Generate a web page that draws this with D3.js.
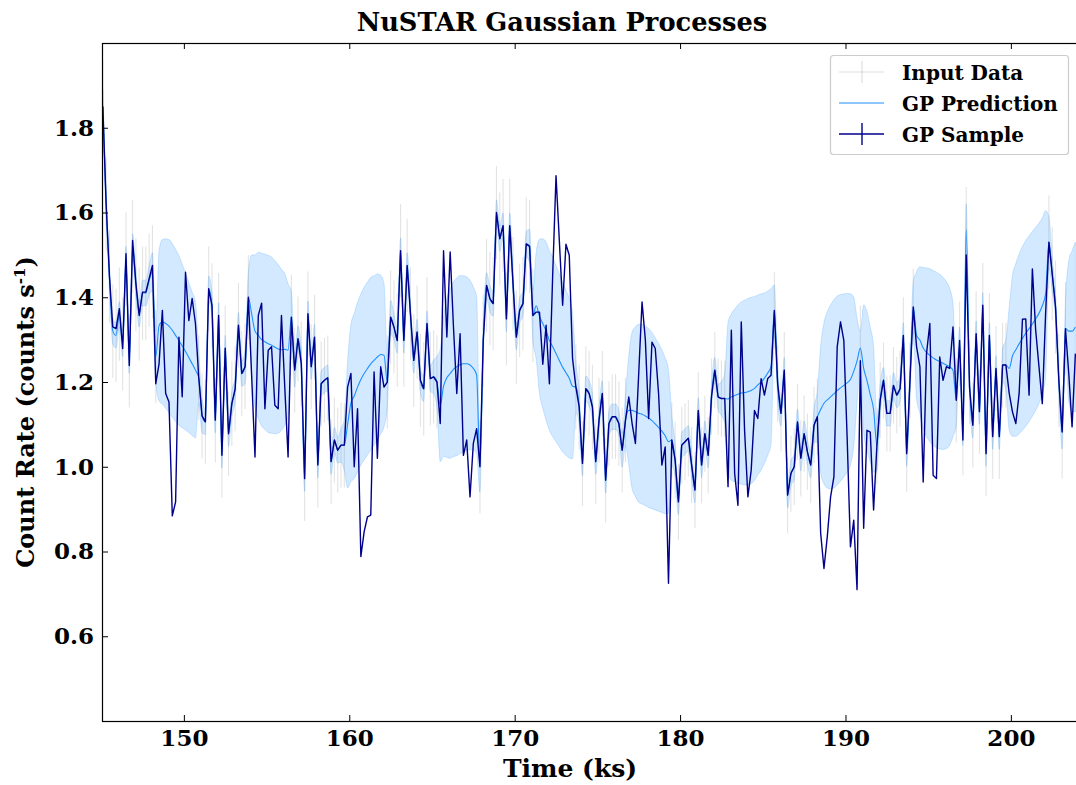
<!DOCTYPE html>
<html>
<head>
<meta charset="utf-8">
<script src="https://cdn.jsdelivr.net/npm/d3@7"></script>
<style>
  html, body { margin: 0; padding: 0; background: #fff; }
  svg { display: block; }
  text { font-family: "DejaVu Serif", serif; font-weight: bold; fill: #000; }
</style>
</head>
<body>
<svg id="chart" width="1076" height="785"></svg>
<script>
// Sampling grid of the light curve (ks)
const timeStart = 145.1;
const timeStep = 0.2;

// One draw from the Gaussian-process posterior (counts/s)
const gpSample = [
  1.85,1.62,1.45,1.33,1.326,1.373,1.279,1.503,1.239,1.534,
  1.432,1.357,1.412,1.412,1.444,1.475,1.196,1.243,1.369,1.173,
  1.153,0.884,0.917,1.306,1.165,1.459,1.345,1.397,1.338,1.21,
  1.12,1.106,1.42,1.38,1.11,1.357,1.027,1.28,1.078,1.149,
  1.184,1.334,1.22,1.236,1.40,1.212,1.023,1.357,1.386,1.137,
  1.275,1.283,1.145,1.137,1.357,1.188,1.023,1.353,1.228,1.302,
  1.243,0.972,1.361,1.236,1.306,1.004,1.196,1.204,1.21,1.012,
  1.063,1.039,1.051,1.051,1.188,1.22,1.0,1.137,0.788,0.847,
  0.882,0.886,1.224,1.02,1.236,1.188,1.2,1.353,1.33,1.298,
  1.51,1.298,1.475,1.361,1.251,1.318,1.204,1.184,1.338,1.208,
  1.212,1.2,1.102,1.51,1.306,1.507,1.33,1.173,1.314,1.027,
  1.063,0.929,1.055,1.09,1.0,1.298,1.428,1.397,1.385,1.60,
  1.538,1.569,1.349,1.569,1.432,1.306,1.369,1.385,1.526,1.52,
  1.357,1.365,1.365,1.242,1.334,1.196,1.455,1.687,1.534,1.381,
  1.525,1.499,1.255,1.188,1.141,1.008,1.184,1.173,1.141,1.012,
  1.11,1.173,0.968,1.102,1.118,1.118,1.102,1.039,1.11,1.165,
  1.102,1.055,1.22,1.389,1.30,1.114,1.294,1.279,1.173,1.004,
  1.047,0.725,1.063,1.016,0.917,1.051,1.059,1.067,1.004,0.945,
  1.133,1.004,1.078,1.027,1.165,1.228,1.165,1.161,1.161,0.953,
  1.322,0.984,0.909,1.342,1.086,0.929,0.992,1.133,1.114,1.208,
  1.169,1.208,1.216,1.369,1.196,1.126,1.228,0.933,0.984,1.0,
  1.106,1.02,1.078,1.035,1.004,1.098,1.118,0.843,0.76,0.835,
  0.929,0.976,1.283,1.342,1.298,1.07,0.811,0.874,0.71,1.25,
  0.855,1.086,1.082,0.898,1.05,1.157,1.204,1.126,1.126,1.192,
  1.169,1.184,1.31,1.031,1.204,1.377,1.283,1.236,0.964,1.267,
  1.338,0.98,0.972,1.259,1.204,1.236,1.232,1.33,1.157,1.298,
  1.063,1.50,1.188,1.098,1.314,1.13,1.381,1.031,1.31,1.071,
  1.232,1.071,1.24,1.24,1.173,1.129,1.102,1.173,1.348,1.349,
  1.169,1.467,1.322,1.236,1.149,1.361,1.53,1.455,1.377,1.204,
  1.082,1.326,1.22,1.094,1.267
];

// Posterior mean of the GP (counts/s)
const gpMean = [
  1.85,1.62,1.45,1.32,1.31,1.36,1.29,1.49,1.25,1.52,
  1.43,1.36,1.41,1.41,1.44,1.46,1.26,1.333,1.342,1.338,
  1.332,1.322,1.31,1.298,1.285,1.272,1.258,1.243,1.228,1.21,
  1.12,1.106,1.42,1.38,1.11,1.357,1.027,1.28,1.078,1.149,
  1.184,1.334,1.22,1.236,1.40,1.36,1.32,1.31,1.30,1.295,
  1.29,1.287,1.282,1.278,1.276,1.277,1.275,1.353,1.228,1.302,
  1.243,0.972,1.361,1.236,1.306,1.004,1.196,1.204,1.21,1.012,
  1.063,1.039,1.051,1.051,1.10,1.15,1.167,1.188,1.206,1.22,
  1.232,1.243,1.251,1.259,1.265,1.263,1.2,1.353,1.33,1.298,
  1.51,1.298,1.475,1.361,1.251,1.318,1.204,1.184,1.338,1.208,
  1.212,1.2,1.145,1.19,1.21,1.22,1.23,1.236,1.241,1.243,
  1.243,1.24,1.232,1.216,1.0,1.298,1.428,1.397,1.385,1.60,
  1.538,1.569,1.349,1.569,1.432,1.306,1.369,1.385,1.526,1.52,
  1.357,1.38,1.355,1.338,1.32,1.298,1.283,1.267,1.251,1.235,
  1.222,1.209,1.19,1.188,1.141,1.008,1.184,1.173,1.141,1.012,
  1.11,1.173,0.968,1.102,1.118,1.118,1.102,1.039,1.11,1.133,
  1.133,1.13,1.126,1.124,1.12,1.115,1.109,1.101,1.093,1.084,
  1.073,1.059,1.063,1.016,0.917,1.051,1.059,1.067,1.004,0.945,
  1.133,1.004,1.078,1.027,1.165,1.228,1.165,1.161,1.161,1.16,
  1.165,1.168,1.171,1.174,1.175,1.177,1.18,1.185,1.193,1.2,
  1.209,1.221,1.237,1.369,1.196,1.126,1.228,0.933,0.984,1.0,
  1.106,1.02,1.078,1.035,1.004,1.098,1.118,1.135,1.15,1.158,
  1.165,1.172,1.18,1.186,1.192,1.198,1.206,1.225,1.25,1.28,
  1.232,1.203,1.17,1.135,1.05,1.157,1.204,1.126,1.126,1.192,
  1.169,1.184,1.31,1.031,1.204,1.377,1.31,1.299,1.28,1.27,
  1.263,1.257,1.252,1.248,1.244,1.24,1.236,1.228,1.157,1.29,
  1.08,1.56,1.2,1.098,1.314,1.13,1.381,1.031,1.31,1.071,
  1.232,1.071,1.24,1.24,1.232,1.262,1.276,1.29,1.303,1.315,
  1.326,1.337,1.349,1.362,1.38,1.408,1.53,1.455,1.377,1.204,
  1.082,1.326,1.32,1.32,1.33
];

// Posterior 1-sigma half-width
const gpSigma = [
  0.04,0.035,0.03,0.03,0.03,0.03,0.03,0.03,0.03,0.03,
  0.03,0.03,0.03,0.03,0.035,0.045,0.06,0.178,0.194,0.2,
  0.204,0.205,0.203,0.2,0.193,0.185,0.177,0.169,0.16,0.06,
  0.04,0.03,0.03,0.03,0.03,0.03,0.03,0.03,0.03,0.03,
  0.03,0.03,0.03,0.04,0.06,0.14,0.18,0.196,0.204,0.207,
  0.209,0.208,0.204,0.199,0.19,0.179,0.157,0.06,0.04,0.03,
  0.03,0.03,0.03,0.03,0.03,0.03,0.03,0.03,0.03,0.03,
  0.03,0.03,0.04,0.06,0.15,0.185,0.195,0.2,0.202,0.204,
  0.204,0.204,0.2,0.196,0.187,0.169,0.06,0.04,0.03,0.03,
  0.03,0.03,0.03,0.03,0.03,0.03,0.03,0.03,0.03,0.03,
  0.04,0.06,0.133,0.165,0.188,0.2,0.206,0.21,0.21,0.208,
  0.205,0.2,0.192,0.185,0.06,0.04,0.03,0.03,0.03,0.03,
  0.03,0.03,0.03,0.03,0.03,0.03,0.03,0.03,0.03,0.04,
  0.06,0.126,0.182,0.2,0.21,0.212,0.212,0.208,0.204,0.2,
  0.195,0.188,0.171,0.06,0.04,0.03,0.03,0.03,0.03,0.03,
  0.03,0.03,0.03,0.03,0.03,0.03,0.03,0.04,0.06,0.13,
  0.185,0.2,0.21,0.212,0.212,0.211,0.208,0.203,0.198,0.192,
  0.184,0.169,0.06,0.04,0.03,0.03,0.03,0.03,0.03,0.03,
  0.03,0.03,0.03,0.03,0.03,0.03,0.03,0.04,0.06,0.18,
  0.196,0.204,0.211,0.215,0.218,0.22,0.22,0.217,0.212,0.208,
  0.201,0.194,0.183,0.06,0.04,0.03,0.03,0.03,0.03,0.03,
  0.03,0.03,0.03,0.03,0.03,0.04,0.06,0.15,0.19,0.208,
  0.217,0.222,0.223,0.22,0.216,0.211,0.202,0.175,0.1,0.04,
  0.15,0.163,0.159,0.148,0.06,0.04,0.03,0.03,0.03,0.03,
  0.03,0.03,0.03,0.03,0.04,0.06,0.15,0.173,0.19,0.199,
  0.204,0.206,0.207,0.206,0.203,0.197,0.185,0.157,0.06,0.04,
  0.03,0.06,0.03,0.03,0.03,0.03,0.03,0.03,0.03,0.03,
  0.03,0.03,0.04,0.06,0.145,0.19,0.204,0.212,0.217,0.219,
  0.219,0.218,0.216,0.213,0.207,0.196,0.06,0.04,0.03,0.03,
  0.04,0.06,0.167,0.19,0.2
];

// Grid-index ranges covered by the binned NuSTAR data (between Earth occultations)
const obsWindows = [[0,16],[29,44],[57,73],[86,101],[114,130],[143,158],
                    [172,188],[203,216],[229,229],[234,245],[258,273],[286,291]];
// Typical 1-sigma error of the binned rate in each window
const obsError = [0.11,0.10,0.10,0.11,0.11,0.10,0.09,0.09,0.10,0.09,0.10,0.11];

const xTicks = [150,160,170,180,190,200];
const yTicks = [0.6,0.8,1.0,1.2,1.4,1.6,1.8];
const legendLabels = ["Input Data","GP Prediction","GP Sample"];
const titleText = "NuSTAR Gaussian Processes";
const xLabel = "Time (ks)";

const times = gpSample.map((_, i) => timeStart + i * timeStep);

const plot = { left: 102, right: 1082, top: 43, bottom: 721 };

const x = d3.scaleLinear()
  .domain([145.05, 145.05 + (plot.right - plot.left) / 16.54])
  .range([plot.left, plot.right]);
const y = d3.scaleLinear().domain([0.4, 2.0]).range([plot.bottom, plot.top]);

const svg = d3.select("#chart");

svg.append("defs").append("clipPath").attr("id", "plotClip")
  .append("rect")
  .attr("x", plot.left).attr("y", plot.top)
  .attr("width", plot.right - plot.left).attr("height", plot.bottom - plot.top);

const g = svg.append("g").attr("clip-path", "url(#plotClip)");

const predColor = "#1e90ff";
const sampleColor = "#00008b";

// 1-sigma band of the prediction
const band = d3.area()
  .x((d, i) => x(times[i]))
  .y0((d, i) => y(gpMean[i] - gpSigma[i]))
  .y1((d, i) => y(gpMean[i] + gpSigma[i]))
  .curve(d3.curveMonotoneX);

g.append("path")
  .datum(gpMean)
  .attr("d", band)
  .attr("fill", predColor)
  .attr("fill-opacity", 0.2)
  .attr("stroke", predColor)
  .attr("stroke-opacity", 0.2)
  .attr("stroke-width", 1);

// Input data error bars
const obsPoints = [];
obsWindows.forEach(([a, b], w) => {
  for (let k = a; k <= b; k++) {
    obsPoints.push({ t: times[k], v: gpMean[k], e: obsError[w] });
  }
});

g.append("g").selectAll("line")
  .data(obsPoints)
  .join("line")
  .attr("x1", d => x(d.t)).attr("x2", d => x(d.t))
  .attr("y1", d => y(d.v - d.e)).attr("y2", d => y(d.v + d.e))
  .attr("stroke", "#808080")
  .attr("stroke-opacity", 0.22)
  .attr("stroke-width", 1.1);

// Prediction mean
g.append("path")
  .datum(gpMean)
  .attr("d", d3.line().x((d, i) => x(times[i])).y(d => y(d)).curve(d3.curveMonotoneX))
  .attr("fill", "none")
  .attr("stroke", predColor)
  .attr("stroke-width", 1.1);

// Posterior sample
g.append("path")
  .datum(gpSample)
  .attr("d", d3.line().x((d, i) => x(times[i])).y(d => y(d)))
  .attr("fill", "none")
  .attr("stroke", sampleColor)
  .attr("stroke-width", 1.4)
  .attr("stroke-linejoin", "round");

// Axes with inward ticks on all sides
const tickFont = "23px";
const xAxisB = svg.append("g")
  .attr("transform", `translate(0,${plot.bottom})`)
  .call(d3.axisBottom(x).tickValues(xTicks).tickFormat(d3.format("d"))
    .tickSizeInner(-6).tickSizeOuter(0).tickPadding(9));
const xAxisT = svg.append("g")
  .attr("transform", `translate(0,${plot.top})`)
  .call(d3.axisTop(x).tickValues(xTicks).tickFormat("")
    .tickSizeInner(-6).tickSizeOuter(0));
const yAxisL = svg.append("g")
  .attr("transform", `translate(${plot.left},0)`)
  .call(d3.axisLeft(y).tickValues(yTicks).tickFormat(d3.format(".1f"))
    .tickSizeInner(-6).tickSizeOuter(0).tickPadding(8));
const yAxisR = svg.append("g")
  .attr("transform", `translate(${plot.right},0)`)
  .call(d3.axisRight(y).tickValues(yTicks).tickFormat("")
    .tickSizeInner(-6).tickSizeOuter(0));

[xAxisB, xAxisT, yAxisL, yAxisR].forEach(a => {
  a.select(".domain").remove();
  a.selectAll(".tick line").attr("stroke", "#000").attr("stroke-width", 1);
  a.selectAll(".tick text")
    .style("font-family", '"DejaVu Serif", serif')
    .style("font-weight", "bold")
    .style("font-size", tickFont)
    .attr("fill", "#000");
});

// Frame
svg.append("rect")
  .attr("x", plot.left + 0.5).attr("y", plot.top + 0.5)
  .attr("width", plot.right - plot.left).attr("height", plot.bottom - plot.top)
  .attr("fill", "none").attr("stroke", "#000").attr("stroke-width", 1.2);

// Title and axis labels
svg.append("text")
  .attr("x", 562).attr("y", 31)
  .attr("text-anchor", "middle")
  .style("font-size", "25.7px")
  .text(titleText);

svg.append("text")
  .attr("x", 570).attr("y", 777)
  .attr("text-anchor", "middle")
  .style("font-size", "25px")
  .text(xLabel);

const yLab = svg.append("text")
  .attr("transform", "translate(34,412) rotate(-90)")
  .attr("text-anchor", "middle")
  .style("font-size", "24px");
yLab.append("tspan").text("Count Rate (counts s");
yLab.append("tspan").attr("dy", -9).style("font-size", "15px").text("-1");
yLab.append("tspan").attr("dy", 9).text(")");

// Legend
const lg = svg.append("g");
lg.append("rect")
  .attr("x", 830.5).attr("y", 55.5).attr("width", 238).attr("height", 99)
  .attr("rx", 3)
  .attr("fill", "#fff").attr("fill-opacity", 0.85)
  .attr("stroke", "#cccccc").attr("stroke-width", 1.2);

const rowY = [72, 103, 134];
const hx0 = 839, hx1 = 884, hxm = 862;

// Input Data handle: error-bar glyph
lg.append("line").attr("x1", hx0).attr("x2", hx1).attr("y1", rowY[0]).attr("y2", rowY[0])
  .attr("stroke", "#808080").attr("stroke-opacity", 0.25).attr("stroke-width", 1.2);
lg.append("line").attr("x1", hxm).attr("x2", hxm).attr("y1", rowY[0] - 11).attr("y2", rowY[0] + 11)
  .attr("stroke", "#808080").attr("stroke-opacity", 0.25).attr("stroke-width", 1.2);
// GP Prediction handle
lg.append("line").attr("x1", hx0).attr("x2", hx1).attr("y1", rowY[1]).attr("y2", rowY[1])
  .attr("stroke", predColor).attr("stroke-width", 1.2);
// GP Sample handle
lg.append("line").attr("x1", hx0).attr("x2", hx1).attr("y1", rowY[2]).attr("y2", rowY[2])
  .attr("stroke", sampleColor).attr("stroke-width", 1.4);
lg.append("line").attr("x1", hxm).attr("x2", hxm).attr("y1", rowY[2] - 11).attr("y2", rowY[2] + 11)
  .attr("stroke", sampleColor).attr("stroke-width", 1.4);

lg.selectAll("text.lab")
  .data(legendLabels)
  .join("text")
  .attr("class", "lab")
  .attr("x", 902)
  .attr("y", (d, i) => rowY[i] + 8)
  .style("font-size", "20px")
  .text(d => d);
</script>
</body>
</html>
